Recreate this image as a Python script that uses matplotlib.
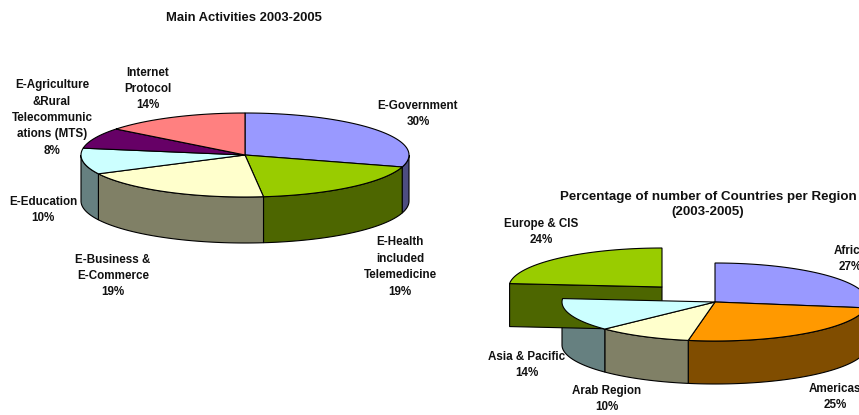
import numpy as np
from matplotlib import pyplot as plt

plt.rcParams['font.family'] = ['Liberation Sans', 'DejaVu Sans']

activity_names = ["E-Government", "E-Health\nincluded\nTelemedicine", "E-Business &\nE-Commerce",
	"E-Education", "E-Agriculture\n&Rural\nTelecommunic\nations (MTS)", "Internet\nProtocol"]
# slice sizes, the labels show them rounded
activity_values = [29.6, 18.6, 19.4, 10.0, 8.0, 14.4]
activity_top = ["#9999FF", "#99CC00", "#FFFFCC", "#CCFFFF", "#660066", "#FF8080"]
activity_side = ["#4D4D80", "#4D6600", "#808066", "#668080", "#330033", "#804040"]

region_names = ["Africa", "Americas", "Arab Region", "Asia & Pacific", "Europe & CIS"]
region_values = [27.4, 25.4, 10.0, 13.6, 23.6]
region_top = ["#9999FF", "#FF9900", "#FFFFCC", "#CCFFFF", "#99CC00"]
region_side = ["#4D4D80", "#804D00", "#808066", "#668080", "#4D6600"]

# label centres in pixels
activity_pos = [(418, 114), (400, 267), (113, 276), (43, 210), (52, 118), (148, 89)]
region_pos = [(850, 259), (835, 397), (607, 399), (527, 365), (541, 232)]


def arc(cx, cy, rx, ry, a0, a1):
	# angles are degrees clockwise from 12 o'clock
	t = np.radians(np.linspace(a0, a1, 80))
	return cx + rx * np.sin(t), cy - ry * np.cos(t)


def draw_pie(ax, values, top, side, cx, cy, rx, ry, depth, explode=None):
	edges = np.concatenate([[0], np.cumsum(values)]) * 360.0 / sum(values)
	for i in range(len(values)):
		x0, y0 = cx, cy
		if explode and i in explode:
			x0, y0 = cx + explode[i][0], cy + explode[i][1]
		a0, a1 = edges[i], edges[i + 1]
		# radial cut face shows when the slice is pulled out
		if explode and i in explode:
			px, py = arc(x0, y0, rx, ry, a0, a0)
			ax.fill([px[0], x0, x0, px[0]], [py[0], y0, y0 + depth, py[0] + depth],
				facecolor=side[i], edgecolor="black", linewidth=0.8, zorder=2)
		# outer wall, front half only
		lo, hi = max(a0, 90), min(a1, 270)
		if lo < hi:
			wx, wy = arc(x0, y0, rx, ry, lo, hi)
			ax.fill(np.r_[wx, wx[::-1]], np.r_[wy, wy[::-1] + depth],
				facecolor=side[i], edgecolor="black", linewidth=0.8, zorder=2)
	for i in range(len(values)):
		x0, y0 = cx, cy
		if explode and i in explode:
			x0, y0 = cx + explode[i][0], cy + explode[i][1]
		tx, ty = arc(x0, y0, rx, ry, edges[i], edges[i + 1])
		ax.fill(np.r_[x0, tx], np.r_[y0, ty], facecolor=top[i], edgecolor="black",
			linewidth=0.8, zorder=3)


def draw_labels(ax, names, values, pos):
	for name, val, (x, y) in zip(names, values, pos):
		ax.text(x, y, "%s\n%d%%" % (name, round(val)), ha="center", va="center", fontsize=8.4,
			fontweight="bold", color="#111111", linespacing=1.49, zorder=5)


def main():
	fig = plt.figure(figsize=(8.59, 4.15), dpi=100)
	ax = fig.add_axes([0, 0, 1, 1])
	ax.set_xlim(0, 859)
	ax.set_ylim(415, 0)
	ax.axis("off")

	draw_pie(ax, region_values, region_top, region_side, 715, 302, 153, 39, 43, explode={4: (-53, -15)})
	draw_pie(ax, activity_values, activity_top, activity_side, 245, 155, 164, 42, 46)
	draw_labels(ax, activity_names, activity_values, activity_pos)
	draw_labels(ax, region_names, region_values, region_pos)

	ax.text(244, 18, "Main Activities 2003-2005", ha="center", va="center", fontsize=9.4,
		fontweight="bold", color="#111111")
	ax.text(708, 204.5, "Percentage of number of Countries per Region\n(2003-2005)", ha="center",
		va="center", fontsize=9.6, fontweight="bold", color="#111111", linespacing=1.4)
	fig.savefig("out.png", dpi=100)


if __name__ == "__main__":
	main()
